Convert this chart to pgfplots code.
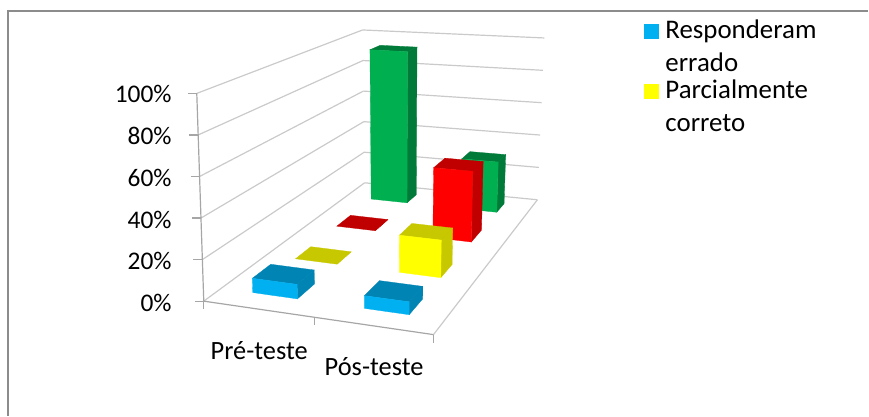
\documentclass[border=0pt]{standalone}
\usepackage{pgfplots}
\usepackage{pgfplotstable}
\usepackage{fontspec}
\setmainfont{Carlito}
\pgfplotsset{compat=1.18}

% Bars of the chart: footprint on the floor (u along the categories, v in depth),
% value in percent, and the fill colours of the lit and the shaded faces.
% Listed from the back row to the front so that nearer bars cover farther ones.
\pgfplotstableread{
u0   u1   v0    v1   value lit    shade
0.14 0.34 0.885 0.95 93    grn    grnD
0.64 0.84 0.885 0.95 30    grn    grnD
0.14 0.34 0.66  0.75 0     red0   redD
0.64 0.84 0.66  0.75 39    red0   redD
0.14 0.34 0.39  0.49 0     yel    yelD
0.64 0.84 0.39  0.49 19    yel    yelD
0.14 0.34 0.11  0.23 7     blu    bluD
0.64 0.84 0.11  0.23 6     blu    bluD
}\barstable

\definecolor{grn}{HTML}{00B050}
\definecolor{grnD}{HTML}{007A38}
\definecolor{red0}{HTML}{FF0000}
\definecolor{redD}{HTML}{C00000}
\definecolor{yel}{HTML}{FFFF00}
\definecolor{yelD}{HTML}{C8C800}
\definecolor{blu}{HTML}{00B0F0}
\definecolor{bluD}{HTML}{0084B4}
\definecolor{gridc}{HTML}{CACACA}
\definecolor{axisc}{HTML}{A6A6A6}
\definecolor{framec}{HTML}{8C8C8C}

% Oblique view of the chart box: floor corners plus the height of the box at each corner.
\tikzset{declare function={
  fx(\u,\v)=(1-\u)*(1-\v)*204+\u*(1-\v)*434+(1-\u)*\v*365+\u*\v*538;
  fy(\u,\v)=(1-\u)*(1-\v)*301.5+\u*(1-\v)*335+(1-\u)*\v*183+\u*\v*200;
  hx(\u,\v)=(1-\u)*(1-\v)*(-7)+\u*(1-\v)*2+(1-\u)*\v*(-2)+\u*\v*7;
  hy(\u,\v)=(1-\u)*(1-\v)*(-208)+\u*(1-\v)*(-225)+(1-\u)*\v*(-153)+\u*\v*(-162);
  px(\u,\v,\w)=fx(\u,\v)+\w*hx(\u,\v);
  py(\u,\v,\w)=fy(\u,\v)+\w*hy(\u,\v);
}}

% \pt{name}{u}{v}{w} stores the projected point as \name
\newcommand\pt[4]{%
  \pgfmathsetmacro\tmpx{px(#2,#3,#4)}%
  \pgfmathsetmacro\tmpy{py(#2,#3,#4)}%
  \expandafter\edef\csname #1\endcsname{(\tmpx,\tmpy)}%
}
% Straight segment in chart coordinates
\newcommand\seg[8]{%
  \pt{pa}{#3}{#4}{#5}\pt{pb}{#6}{#7}{#8}%
  \edef\tmp{\noexpand\addplot[#1,line width=#2,forget plot] coordinates {\pa\space\pb};}\tmp
}
% Polygon with four corners
\newcommand\face[5]{%
  \edef\tmp{\noexpand\addplot[fill=#1,draw=#1,line width=0.3pt,forget plot] coordinates {#2 #3 #4 #5} -- cycle;}\tmp
}
\newcommand\tickfont{\fontsize{25.5}{28}\selectfont}
\newcommand\catfont{\fontsize{26.5}{28}\selectfont}
\newcommand\legfont{\fontsize{27}{28}\selectfont}

\begin{document}
\begin{tikzpicture}
\begin{axis}[
  scale only axis, width=869bp, height=416bp,
  xmin=0, xmax=869, ymin=0, ymax=416, y dir=reverse,
  axis lines=none, clip=false,
]
% the whole canvas counts for the picture's size
\path (axis cs:0,0) -- (axis cs:869,416);

% outer frame: left and top edges only
\addplot[framec,line width=2bp,forget plot] coordinates {(8.5,416) (8.5,11.5) (869,11.5)};

% walls: gridlines at each 20 %
\pgfplotsinvokeforeach{0,0.2,0.4,0.6,0.8,1}{
  \seg{gridc}{1.2bp}{0}{0}{#1}{0}{1}{#1}
  \seg{gridc}{1.2bp}{0}{1}{#1}{1}{1}{#1}
}
% floor edges
\seg{gridc}{1.2bp}{1}{0}{0}{1}{1}{0}
\seg{axisc}{1.2bp}{0}{0}{0}{1}{0}{0}

% value axis and its ticks
\seg{axisc}{1.2bp}{0}{0}{0}{0}{0}{1}
\pgfplotsinvokeforeach{0,0.2,0.4,0.6,0.8,1}{
  \pgfmathsetmacro\ax{px(0,0,#1)}
  \pgfmathsetmacro\ay{py(0,0,#1)}
  \pgfmathsetmacro\bx{\ax-9}
  \edef\tmp{\noexpand\addplot[axisc,line width=1.2bp,forget plot] coordinates {(\ax,\ay) (\bx,\ay)};}\tmp
}
% category axis ticks
\pgfplotsinvokeforeach{0,0.482,1}{
  \pgfmathsetmacro\ax{px(#1,0,0)}
  \pgfmathsetmacro\ay{py(#1,0,0)}
  \pgfmathsetmacro\by{\ay+8}
  \edef\tmp{\noexpand\addplot[axisc,line width=1.2bp,forget plot] coordinates {(\ax,\ay) (\ax,\by)};}\tmp
}

% bars, each read from the table
\pgfplotsinvokeforeach{0,...,7}{
  \pgfplotstablegetelem{#1}{u0}\of\barstable\let\ua\pgfplotsretval
  \pgfplotstablegetelem{#1}{u1}\of\barstable\let\ub\pgfplotsretval
  \pgfplotstablegetelem{#1}{v0}\of\barstable\let\va\pgfplotsretval
  \pgfplotstablegetelem{#1}{v1}\of\barstable\let\vb\pgfplotsretval
  \pgfplotstablegetelem{#1}{value}\of\barstable\pgfmathsetmacro\w{\pgfplotsretval/100}
  \pgfplotstablegetelem{#1}{lit}\of\barstable\let\lit\pgfplotsretval
  \pgfplotstablegetelem{#1}{shade}\of\barstable\let\shade\pgfplotsretval
  \pt{fla}{\ua}{\va}{0}\pt{flb}{\ub}{\va}{0}\pt{flc}{\ub}{\vb}{0}
  \pt{tpa}{\ua}{\va}{\w}\pt{tpb}{\ub}{\va}{\w}\pt{tpc}{\ub}{\vb}{\w}\pt{tpd}{\ua}{\vb}{\w}
  \face{\shade}{\flb}{\flc}{\tpc}{\tpb}
  \face{\shade}{\tpa}{\tpb}{\tpc}{\tpd}
  \pgfmathparse{\w>0 ? 1 : 0}
  \ifnum\pgfmathresult=1 \face{\lit}{\fla}{\flb}{\tpb}{\tpa}\fi
}

% value axis labels
\node[anchor=east,font=\tickfont,inner sep=0pt] at (axis cs:172,94) {100\%};
\node[anchor=east,font=\tickfont,inner sep=0pt] at (axis cs:172,136) {80\%};
\node[anchor=east,font=\tickfont,inner sep=0pt] at (axis cs:172,178) {60\%};
\node[anchor=east,font=\tickfont,inner sep=0pt] at (axis cs:172,220) {40\%};
\node[anchor=east,font=\tickfont,inner sep=0pt] at (axis cs:172,261) {20\%};
\node[anchor=east,font=\tickfont,inner sep=0pt] at (axis cs:172,303) {0\%};

% category labels
\node[font=\catfont] at (axis cs:259.5,351) {Pré-teste};
\node[font=\catfont] at (axis cs:374.5,367) {Pós-teste};

% legend
\fill[blu] (axis cs:645,24) rectangle (axis cs:660,39);
\fill[yel] (axis cs:645,84) rectangle (axis cs:660,99);
\node[anchor=base west,font=\legfont,inner sep=0pt] at (axis cs:666,39) {Responderam};
\node[anchor=base west,font=\legfont,inner sep=0pt] at (axis cs:666,72) {errado};
\node[anchor=base west,font=\legfont,inner sep=0pt] at (axis cs:666,99) {Parcialmente};
\node[anchor=base west,font=\legfont,inner sep=0pt] at (axis cs:666,132) {correto};
\end{axis}
\end{tikzpicture}
\end{document}
